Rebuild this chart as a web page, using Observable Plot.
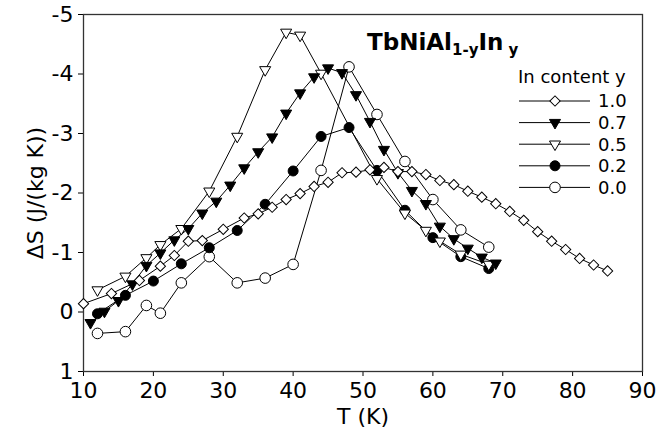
<!DOCTYPE html>
<html><head><meta charset="utf-8">
<script src="https://cdn.jsdelivr.net/npm/d3@7"></script>
<script src="https://cdn.jsdelivr.net/npm/@observablehq/plot@0.6"></script>
<style>html,body{margin:0;padding:0;background:#fff}#chart{width:671px;height:432px}</style>
</head><body><div id="chart"></div>
<script>
// ---- data ----
const xTicks = [10,20,30,40,50,60,70,80,90];
const yTicks = [-5,-4,-3,-2,-1,0,1];
const seriesLabels = ["1.0","0.7","0.5","0.2","0.0"];

const T10 = [10,14,18,21,23,25,27,30,33,35,37,39,41,43,45,47,49,51,53,55,57,59,61,63,65,67,69,71,73,75,77,79,81,83,85];
const S10 = [-0.14,-0.31,-0.53,-0.77,-0.95,-1.19,-1.20,-1.39,-1.58,-1.65,-1.76,-1.89,-1.99,-2.11,-2.18,-2.34,-2.35,-2.39,-2.43,-2.36,-2.36,-2.31,-2.21,-2.14,-2.03,-1.93,-1.82,-1.69,-1.54,-1.35,-1.19,-1.05,-0.90,-0.79,-0.69];

const T07 = [11,13,15,17,19,21,23,25,27,29,31,33,35,37,39,41,43,45,47,49,51,53,55,57,59,61,63,65,67,69];
const S07 = [0.18,-0.01,-0.19,-0.47,-0.78,-0.99,-1.21,-1.40,-1.66,-1.86,-2.13,-2.42,-2.69,-2.94,-3.34,-3.68,-3.95,-4.10,-4.02,-3.65,-3.20,-2.73,-2.34,-2.04,-1.82,-1.44,-1.23,-1.07,-0.92,-0.82];

const T05 = [12,16,19,21,24,28,32,36,39,41,44,52,56,59,61,64,68];
const S05 = [-0.37,-0.60,-0.91,-1.13,-1.40,-2.03,-2.95,-4.07,-4.70,-4.65,-4.01,-2.24,-1.66,-1.37,-1.19,-0.97,-0.80];

const T02 = [12,16,20,24,28,32,36,40,44,48,52,56,60,64,68];
const S02 = [0.03,-0.28,-0.52,-0.81,-1.08,-1.37,-1.81,-2.37,-2.95,-3.10,-2.38,-1.71,-1.25,-0.93,-0.73];

const T00 = [12,16,19,21,24,28,32,36,40,44,48,52,56,60,64,68];
const S00 = [0.36,0.33,-0.11,0.02,-0.49,-0.93,-0.49,-0.57,-0.80,-2.38,-4.12,-3.32,-2.53,-1.89,-1.38,-1.09];

// ---- styling ----
const series = [
  {label: seriesLabels[0], T: T10, S: S10, symbol: "square",   rotate: 45,  fill: "white", r: 4.1},
  {label: seriesLabels[1], T: T07, S: S07, symbol: "triangle", rotate: 180, fill: "black", r: 4.1},
  {label: seriesLabels[2], T: T05, S: S05, symbol: "triangle", rotate: 180, fill: "white", r: 4.1},
  {label: seriesLabels[3], T: T02, S: S02, symbol: "circle",   rotate: 0,   fill: "black", r: 5},
  {label: seriesLabels[4], T: T00, S: S00, symbol: "circle",   rotate: 0,   fill: "white", r: 5.3}
];
series.forEach(s => s.data = s.T.map((t, i) => ({T: t, S: s.S[i]})));

const marks = [Plot.frame({stroke: "#333", strokeWidth: 1.3})];
series.slice().reverse().forEach(s => {
  marks.push(Plot.line(s.data, {x: "T", y: "S", stroke: "black", strokeWidth: 1}));
});
series.slice().reverse().forEach(s => {
  marks.push(Plot.dot(s.data, {x: "T", y: "S", symbol: s.symbol, rotate: s.rotate, r: s.r,
    fill: s.fill, stroke: "black", strokeWidth: 1}));
});

const plot = Plot.plot({
  width: 671, height: 432,
  marginLeft: 83, marginRight: 29, marginTop: 14, marginBottom: 61,
  style: {fontFamily: "DejaVu Sans", fontSize: "22px", color: "black", background: "white", overflow: "visible"},
  x: {domain: [10, 90], ticks: xTicks, tickSize: 5, tickPadding: 6, tickFormat: d => String(d),
      label: "T (K)", labelAnchor: "center", labelOffset: 52, labelArrow: "none"},
  y: {domain: [1, -5], ticks: yTicks, tickSize: 5, tickPadding: 5, tickFormat: d => String(d),
      label: "ΔS (J/(kg K))", labelAnchor: "center", labelOffset: 56, labelArrow: "none"},
  marks
});
document.getElementById("chart").appendChild(plot);

// ---- title and legend overlay ----
const svg = d3.select(plot);
const title = svg.append("text").attr("x", 367).attr("y", 50).attr("text-anchor", "start")
  .attr("font-family", "DejaVu Sans").attr("font-weight", "bold").attr("font-size", 23).attr("fill", "black");
title.append("tspan").text("TbNiAl");
title.append("tspan").attr("font-size", 15).attr("dy", 5).text("1-y");
title.append("tspan").attr("dy", -5).text("In");
title.append("tspan").attr("font-size", 15).attr("dy", 5).text(" y");

const lg = svg.append("g").attr("font-family", "DejaVu Sans").attr("fill", "black").attr("text-anchor", "start");
lg.append("text").attr("x", 518).attr("y", 83).attr("font-size", 18).text("In content y");
series.forEach((s, i) => {
  const yy = 101 + i * 21.6;
  lg.append("line").attr("x1", 519).attr("x2", 590).attr("y1", yy).attr("y2", yy)
    .attr("stroke", "black").attr("stroke-width", 1);
  const sym = {square: d3.symbolSquare, triangle: d3.symbolTriangle, circle: d3.symbolCircle}[s.symbol];
  lg.append("path").attr("d", d3.symbol(sym, Math.PI * s.r * s.r)())
    .attr("transform", `translate(555,${yy}) rotate(${s.rotate})`)
    .attr("fill", s.fill).attr("stroke", "black").attr("stroke-width", 1);
  lg.append("text").attr("x", 598).attr("y", yy).attr("dy", "0.36em").attr("font-size", 18).text(s.label);
});
</script>
</body></html>
